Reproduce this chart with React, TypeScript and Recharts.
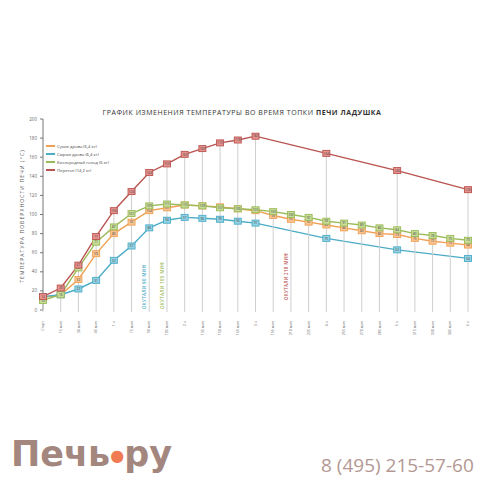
import { LineChart, Line, XAxis, YAxis, ReferenceLine } from 'recharts';

const times = [
  'Старт', '15 мин', '30 мин', '45 мин', '1 ч', '75 мин', '90 мин', '105 мин', '2 ч',
  '135 мин', '150 мин', '165 мин', '3 ч', '195 мин', '210 мин', '225 мин', '4 ч',
  '255 мин', '270 мин', '285 мин', '5 ч', '315 мин', '330 мин', '345 мин', '6 ч'
];

const dryWood = [13, 16, 32, 59, 80, 92, 104, 107, 110, 109, 108, 106, 104, 99, 95, 92, 89, 86, 83, 80, 79, 75, 72, 70, 68];
const wetWood = [14, 16, 22, 31, 52, 67, 86, 94, 97, 96, 95, 93, 91, null, null, null, 75, null, null, null, 63, null, null, null, 54];
const oxygen = [10, 16, 44, 71, 87, 101, 109, 111, 110, 109, 107, 106, 105, 103, 100, 97, 93, 91, 89, 86, 84, 80, 78, 75, 73];
const overheat = [14, 23, 47, 77, 104, 124, 144, 153, 163, 169, 175, 178, 182, null, null, null, 164, null, null, null, 146, null, null, null, 126];

const yTicks = [0, 20, 40, 60, 80, 100, 120, 140, 160, 180, 200];

const series = [
  { key: 'dry', name: 'Сухие дрова (6,4 кг)', values: dryWood, color: '#f0a054', fill: '#f8c592' },
  { key: 'wet', name: 'Сырые дрова (6,4 кг)', values: wetWood, color: '#4bacc6', fill: '#93d3e4' },
  { key: 'oxy', name: 'Кислородный голод (6 кг)', values: oxygen, color: '#9bbb59', fill: '#c6dc98' },
  { key: 'hot', name: 'Перетоп (14,2 кг)', values: overheat, color: '#b95450', fill: '#e8928e' }
];

const notes = [
  { at: '90 мин', text: 'ОКУТАЛИ 90 МИН', color: '#4bacc6', shift: 0 },
  { at: '105 мин', text: 'ОКУТАЛИ 105 МИН', color: '#9bbb59', shift: 0 },
  { at: '210 мин', text: 'ОКУТАЛИ 210 МИН', color: '#b95450', shift: 9 }
];

const data = times.map((t, i) => {
  const row: any = { t };
  series.forEach(s => { row[s.key] = s.values[i]; });
  row.top = Math.max(...series.map(s => s.values[i] ?? 0));
  return row;
});

const W = 484;
const H = 484;
const margin = { top: 119, right: 16, bottom: 144, left: 13 };
const X_AXIS_H = 30;
const PLOT_BOTTOM = H - margin.bottom - X_AXIS_H;

const squareDot = (color: string, fill: string) => (props: any) => {
  const { cx, cy, value, index } = props;
  if (value == null || cx == null || cy == null) return <g key={index} />;
  return (
    <g key={index}>
      <rect x={cx - 3.5} y={cy - 3} width={7} height={6} fill={fill} stroke={color} strokeWidth={0.9} />
      <text x={cx} y={cy + 1.2} textAnchor="middle" fontSize={3.2} fill="#444">{value}</text>
    </g>
  );
};

const dropLine = (props: any) => {
  const { cx, cy, index } = props;
  if (cx == null || cy == null) return <g key={index} />;
  return <line key={index} x1={cx} x2={cx} y1={cy} y2={PLOT_BOTTOM + 2} stroke="#cfcfcf" strokeWidth={1} />;
};

const TimeTick = (props: any) => {
  const { x, y, payload } = props;
  return (
    <text
      transform={`translate(${x + 1.2}, ${y + 3}) rotate(-90)`}
      textAnchor="end"
      fontSize={3.6}
      fill="#666"
    >
      {payload.value}
    </text>
  );
};

const noteLabel = (text: string, color: string, shift: number) => (props: any) => {
  const { viewBox } = props;
  if (!viewBox) return null;
  const x = viewBox.x - 3;
  const y = viewBox.y + viewBox.height - 1 - shift;
  return (
    <text
      transform={`translate(${x}, ${y}) rotate(-90)`}
      fontSize={4.4}
      fontWeight={600}
      letterSpacing={0.35}
      fill={color}
    >
      {text}
    </text>
  );
};

const App = () => {
  return (
    <div style={{ position: 'absolute', left: 0, top: 0, width: W, height: H, background: '#fff', fontFamily: '"Open Sans", sans-serif' }}>
      <LineChart width={W} height={H} data={data} margin={margin}>
        <XAxis
          dataKey="t"
          scale="point"
          interval={0}
          height={X_AXIS_H}
          axisLine={false}
          tickLine={false}
          tick={<TimeTick />}
        />
        <YAxis
          width={30}
          domain={[0, 200]}
          ticks={yTicks}
          interval={0}
          tickSize={3}
          tickMargin={3}
          axisLine={{ stroke: '#777' }}
          tickLine={{ stroke: '#777' }}
          tick={{ fontSize: 4.5, fill: '#666' }}
        />
        <Line dataKey="top" stroke="none" dot={dropLine} activeDot={false} isAnimationActive={false} legendType="none" />
        {notes.map(n => (
          <ReferenceLine key={n.at} x={n.at} strokeOpacity={0} label={noteLabel(n.text, n.color, n.shift)} />
        ))}
        {series.map(s => (
          <Line
            key={s.key}
            dataKey={s.key}
            name={s.name}
            stroke={s.color}
            strokeWidth={1.4}
            connectNulls
            dot={squareDot(s.color, s.fill)}
            activeDot={false}
            isAnimationActive={false}
          />
        ))}
      </LineChart>

      {/* title */}
      <div style={{ position: 'absolute', left: 0, width: W, top: 108, textAlign: 'center', fontSize: 7, fontWeight: 500, letterSpacing: 0.55, color: '#333' }}>
        ГРАФИК ИЗМЕНЕНИЯ ТЕМПЕРАТУРЫ ВО ВРЕМЯ ТОПКИ <b>ПЕЧИ ЛАДУШКА</b>
      </div>

      {/* y axis title */}
      <div style={{ position: 'absolute', left: 22, top: 216, width: 0, height: 0 }}>
        <div style={{ position: 'absolute', transform: 'translate(-50%, -50%) rotate(-90deg)', whiteSpace: 'nowrap', fontSize: 5, letterSpacing: 1.1, color: '#555' }}>
          ТЕМПЕРАТУРА ПОВЕРХНОСТИ ПЕЧИ (°C)
        </div>
      </div>

      {/* legend */}
      <div style={{ position: 'absolute', left: 46, top: 142 }}>
        {series.map(s => (
          <div key={s.key} style={{ display: 'flex', alignItems: 'center', height: 8, fontSize: 4.2, color: '#444' }}>
            <span style={{ display: 'inline-block', width: 9, height: 1.2, background: s.color, marginRight: 2 }} />
            {s.name}
          </div>
        ))}
      </div>

      {/* brand */}
      <div style={{ position: 'absolute', left: 11, top: 434, fontFamily: '"DejaVu Sans", sans-serif', fontWeight: 'bold', fontSize: 35, color: '#a3877f', lineHeight: '40px', whiteSpace: 'nowrap' }}>
        Печь<span style={{ color: '#f07a52', fontSize: 16, verticalAlign: 'middle' }}>●</span>ру
      </div>
      <div style={{ position: 'absolute', left: 321, top: 452, fontFamily: '"Open Sans", sans-serif', fontSize: 19, color: '#b39893', lineHeight: '26px', whiteSpace: 'nowrap' }}>
        8 (495) 215-57-60
      </div>
    </div>
  );
};

export default App;
